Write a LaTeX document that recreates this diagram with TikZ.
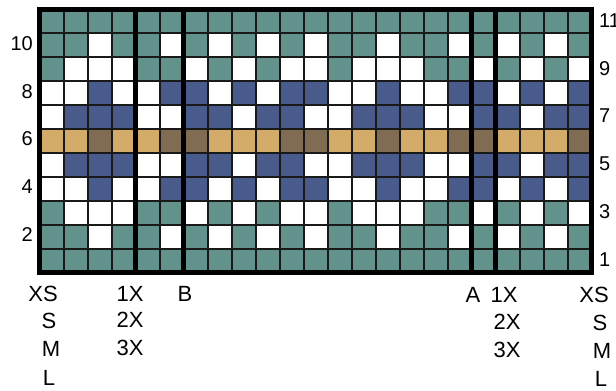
\documentclass[tikz,border=0pt]{standalone}
\usepackage{fontspec}
\setmainfont{Liberation Sans}
\definecolor{cG}{HTML}{63918B}
\definecolor{cW}{HTML}{FFFFFF}
\definecolor{cN}{HTML}{485B8A}
\definecolor{cT}{HTML}{D4AC6A}
\definecolor{cB}{HTML}{806C52}
\def\gx{39.5}
\def\gy{9.5}
\def\cw{24}
\def\ch{23.9}
\newcommand\chartrow[2]{%
  \foreach \c [count=\i] in {#2} {%
    \fill[fill=c\c] ({\gx+(\i-1)*\cw},{\gy+(11-#1)*\ch}) rectangle ++(\cw,\ch);}}
\tikzset{
  lbl/.style={font=\fontsize{20}{24}\selectfont, inner sep=0pt, text=black},
  blbl/.style={font=\fontsize{22}{26}\selectfont, inner sep=0pt, text=black, anchor=base},
  thinline/.style={line width=2pt, draw=black!90},
  thickline/.style={line width=5pt, draw=black},
}
\begin{document}
\begin{tikzpicture}[x=1pt,y=-1pt]
\useasboundingbox (0,0) rectangle (616,391);
\fill[white] (0,0) rectangle (616,391);
\chartrow{11}{G,G,G,G,G,G,G,G,G,G,G,G,G,G,G,G,G,G,G,G,G,G,G}
\chartrow{10}{G,G,W,G,G,W,G,W,G,W,G,W,G,G,W,G,G,W,G,W,G,W,G}
\chartrow{9}{G,W,W,W,G,G,W,G,W,G,W,W,G,W,W,W,G,G,W,G,W,G,W}
\chartrow{8}{W,W,N,W,W,N,N,W,N,W,N,N,W,W,N,W,W,N,N,W,N,W,N}
\chartrow{7}{W,N,N,N,W,W,N,N,W,N,N,W,W,N,N,N,W,W,N,N,W,N,N}
\chartrow{6}{T,T,B,T,T,B,B,T,T,T,B,B,T,T,B,T,T,B,B,T,T,T,B}
\chartrow{5}{W,N,N,N,W,W,N,N,W,N,N,W,W,N,N,N,W,W,N,N,W,N,N}
\chartrow{4}{W,W,N,W,W,N,N,W,N,W,N,N,W,W,N,W,W,N,N,W,N,W,N}
\chartrow{3}{G,W,W,W,G,G,W,G,W,G,W,W,G,W,W,W,G,G,W,G,W,G,W}
\chartrow{2}{G,G,W,G,G,W,G,W,G,W,G,W,G,G,W,G,G,W,G,W,G,W,G}
\chartrow{1}{G,G,G,G,G,G,G,G,G,G,G,G,G,G,G,G,G,G,G,G,G,G,G}
% thin grid lines
\foreach \k in {1,...,22}
  \draw[thinline] ({\gx+\k*\cw},\gy) -- ({\gx+\k*\cw},{\gy+11*\ch});
\foreach \k in {1,...,10}
  \draw[thinline] (\gx,{\gy+\k*\ch}) -- ({\gx+23*\cw},{\gy+\k*\ch});
% thick section lines
\foreach \k in {4,6,18,19}
  \draw[thickline] ({\gx+\k*\cw},\gy) -- ({\gx+\k*\cw},{\gy+11*\ch});
\draw[thickline] (\gx,\gy) rectangle ({\gx+23*\cw},{\gy+11*\ch});
% row numbers
\foreach \r in {10,8,6,4,2}
  \node[lbl, anchor=east] (l\r) at (33,{\gy+(11.5-\r)*\ch-2}) {\r};
\foreach \r in {11,9,7,5,3,1}
  \node[lbl, anchor=west] (r\r) at (599,{\gy+(11.5-\r)*\ch-1}) {\r};
% bottom labels, left
\node[blbl] (lxs) at (43,301) {XS};
\node[blbl] (ls) at (49,328) {S};
\node[blbl] (lm) at (51,356) {M};
\node[blbl] (ll) at (49,385) {L};
\node[blbl] (l1x) at (130,301) {1X};
\node[blbl] (l2x) at (130,327) {2X};
\node[blbl] (l3x) at (130,355) {3X};
\node[blbl] (b) at (185,301) {B};
% bottom labels, right
\node[blbl] (a) at (473,302) {A};
\node[blbl] (r1x) at (504,302) {1X};
\node[blbl] (r2x) at (507,329) {2X};
\node[blbl] (r3x) at (507,357) {3X};
\node[blbl] (rxs) at (594,302) {XS};
\node[blbl] (rs) at (600,330) {S};
\node[blbl] (rm) at (602,358) {M};
\node[blbl] (rl) at (601,386) {L};
\end{tikzpicture}
\end{document}
